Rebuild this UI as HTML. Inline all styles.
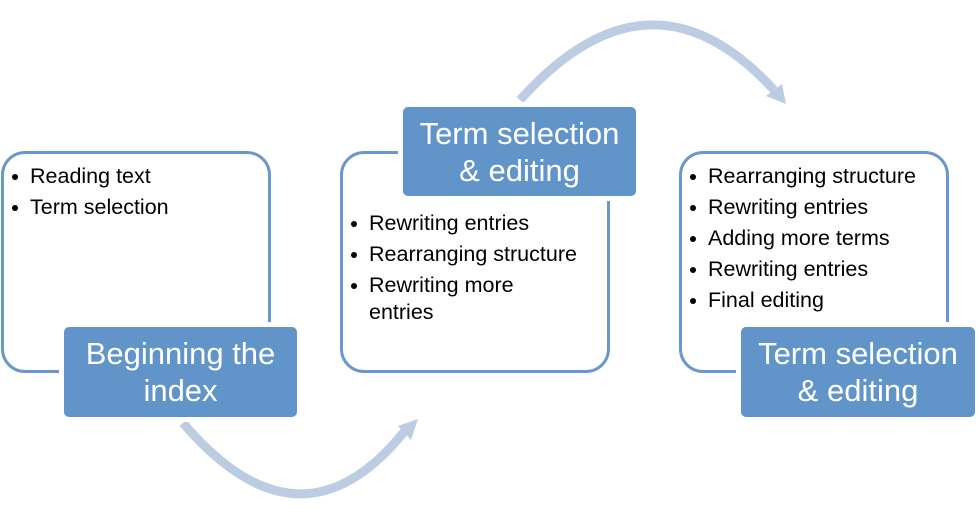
<!DOCTYPE html>
<html><head><style>
body{margin:0;width:979px;height:525px;background:#fff;position:relative;overflow:hidden;font-family:"Liberation Sans",sans-serif}
.box{position:absolute;border:3px solid #6a98cc;border-radius:24px;background:#fff;box-sizing:border-box}
.lab{position:absolute;background:#6194c8;border-radius:5px;color:#fff;font-size:31px;line-height:37px;text-align:center;display:flex;align-items:center;justify-content:center;box-sizing:border-box;box-shadow:0 0 0 5px #fff;white-space:nowrap}
ul{position:absolute;margin:0;padding:0;list-style:none;font-size:21.5px;color:#000;white-space:nowrap}
li{position:relative;padding-left:18px;line-height:27px;margin-bottom:4px}
li:before{content:"";position:absolute;left:0;top:11px;width:6px;height:6px;border-radius:50%;background:#000}
</style></head><body>
<svg width="979" height="525" style="position:absolute;left:0;top:0">
<path d="M183,423 Q300,560 404,432" fill="none" stroke="#bccde3" stroke-width="9"/>
<polygon points="418,419 398,426 411,440" fill="#bccde3"/>
<path d="M520,100 Q650,-45 774,90" fill="none" stroke="#bccde3" stroke-width="9"/>
<polygon points="786,104 766,96 782,84" fill="#bccde3"/>
</svg>
<div class="box" style="left:1px;top:151px;width:270px;height:222px"></div>
<div class="box" style="left:340px;top:151px;width:270px;height:222px"></div>
<div class="box" style="left:679px;top:151px;width:270px;height:222px"></div>
<div class="lab" style="left:64px;top:327px;width:233px;height:90px">Beginning the<br>index</div>
<div class="lab" style="left:403px;top:107px;width:233px;height:89px">Term selection<br>&amp; editing</div>
<div class="lab" style="left:741px;top:327px;width:234px;height:90px">Term selection<br>&amp; editing</div>
<ul style="left:12px;top:163px"><li>Reading text</li><li>Term selection</li></ul>
<ul style="left:351px;top:210px"><li>Rewriting entries</li><li>Rearranging structure</li><li>Rewriting more<br>entries</li></ul>
<ul style="left:690px;top:163px"><li>Rearranging structure</li><li>Rewriting entries</li><li>Adding more terms</li><li>Rewriting entries</li><li>Final editing</li></ul>
</body></html>
